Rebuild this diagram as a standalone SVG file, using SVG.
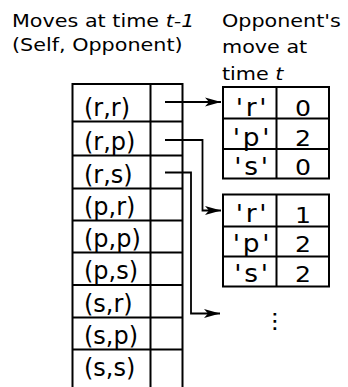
<svg xmlns="http://www.w3.org/2000/svg" width="348" height="387" viewBox="0 0 348 387">
<style>
text{font-family:"DejaVu Sans","Liberation Sans",sans-serif;fill:#000}
.h{font-size:18.5px}
.c{font-size:24px}
.q{font-size:24px;text-anchor:middle;letter-spacing:2.5px}
.d{font-size:21px;text-anchor:middle}
.g{fill:none;stroke:#000;stroke-width:2}
.k{fill:none;stroke:#000;stroke-width:1.8}
</style>
<defs>
<marker id="ah" markerUnits="userSpaceOnUse" markerWidth="20" markerHeight="12" viewBox="-17 -6 18 12" refX="0" refY="0" orient="auto">
<path d="M0,0 L-16,-4.5 L-12,0 L-16,4.5 Z" fill="#000"/>
</marker>
</defs>
<g id="header-left">
<text class="h" transform="translate(12,27) scale(1.12,1)">Moves at time <tspan font-style="italic">t-1</tspan></text>
<text class="h" transform="translate(12,51) scale(1.12,1)">(Self, Opponent)</text>
</g>
<g id="header-right">
<text class="h" transform="translate(222,27) scale(1.12,1)">Opponent's</text>
<text class="h" transform="translate(222,53) scale(1.12,1)">move at</text>
<text class="h" transform="translate(222,80) scale(1.12,1)">time <tspan font-style="italic">t</tspan></text>
</g>
<g id="left-table">
<path class="g" d="M72.5,387 V84 H182.5 V387 M150.5,84 V387 M72.5,121.5 H182.5 M72.5,155.5 H182.5 M72.5,188.5 H182.5 M72.5,220.5 H182.5 M72.5,252.5 H182.5 M72.5,285 H182.5 M72.5,317.5 H182.5 M72.5,349.5 H182.5"/>
<text class="c" x="84" y="116">(r,r)</text>
<text class="c" x="84" y="150">(r,p)</text>
<text class="c" x="84" y="183">(r,s)</text>
<text class="c" x="84" y="215">(p,r)</text>
<text class="c" x="84" y="247">(p,p)</text>
<text class="c" x="84" y="279">(p,s)</text>
<text class="c" x="84" y="312">(s,r)</text>
<text class="c" x="84" y="344">(s,p)</text>
<text class="c" x="84" y="376">(s,s)</text>
</g>
<g id="table-rr">
<path class="g" d="M223,87 H329 V178.5 H223 Z M276.5,87 V178.5 M223,118.5 H329 M223,149 H329"/>
<text class="q" transform="translate(252.5,116) scale(1.1,1)">'r'</text>
<text class="d" transform="translate(303,116) scale(1.2,1)">0</text>
<text class="q" transform="translate(252.5,146) scale(1.1,1)">'p'</text>
<text class="d" transform="translate(303,146) scale(1.2,1)">2</text>
<text class="q" transform="translate(252.5,175) scale(1.1,1)">'s'</text>
<text class="d" transform="translate(303,175) scale(1.2,1)">0</text>
</g>
<g id="table-rp">
<path class="g" d="M223,194.5 H329 V286.5 H223 Z M276.5,194.5 V286.5 M223,226.5 H329 M223,256.5 H329"/>
<text class="q" transform="translate(252.5,222) scale(1.1,1)">'r'</text>
<text class="d" transform="translate(303,223) scale(1.2,1)">1</text>
<text class="q" transform="translate(252.5,252) scale(1.1,1)">'p'</text>
<text class="d" transform="translate(303,252) scale(1.2,1)">2</text>
<text class="q" transform="translate(252.5,282) scale(1.1,1)">'s'</text>
<text class="d" transform="translate(303,282) scale(1.2,1)">2</text>
</g>
<g id="ellipsis">
<text class="d" transform="translate(275,328) scale(1.2,1)">⋮</text>
</g>
<g id="connectors">
<path class="k" d="M165,102 H221" marker-end="url(#ah)"/>
<path class="k" d="M165,140 H202.5 V210.5 H221" marker-end="url(#ah)"/>
<path class="k" d="M165,172.5 H191 V313.5 H220" marker-end="url(#ah)"/>
</g>
</svg>
